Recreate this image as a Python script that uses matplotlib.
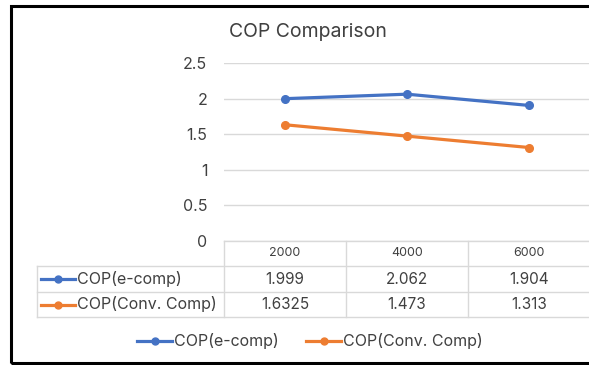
import matplotlib
matplotlib.use('Agg')
import matplotlib.pyplot as plt
from matplotlib.lines import Line2D
from matplotlib.patches import Rectangle
from matplotlib.transforms import blended_transform_factory

# 数据
categories = ['2000', '4000', '6000']
cop_ecomp = [1.999, 2.062, 1.904]
cop_conv = [1.6325, 1.473, 1.313]
ecomp_labels = ['1.999', '2.062', '1.904']
conv_labels = ['1.6325', '1.473', '1.313']
series_names = ['COP(e-comp)', 'COP(Conv. Comp)']
yticks = [0, 0.5, 1, 1.5, 2, 2.5]

blue = '#4472C4'
orange = '#ED7D31'
grid_c = '#D9D9D9'
text_c = '#404040'

plt.rcParams['font.family'] = ['Inter', 'DejaVu Sans']

W, H = 589, 365
fig = plt.figure(figsize=(W / 100, H / 100), dpi=100)


def fx(px):
    return px / W


def fy(py):
    return 1 - py / H


# 外框
fig.patches.append(Rectangle((fx(11), fy(362.5)), fx(600) - fx(11), fy(6) - fy(362.5),
                             transform=fig.transFigure, fill=False,
                             edgecolor='black', linewidth=2.2))

# 绘图区
ax = fig.add_axes([fx(224), fy(241), fx(590) - fx(224), fy(63) - fy(241)])
x = list(range(len(categories)))
ax.plot(x, cop_ecomp, color=blue, linewidth=2.3, marker='o', markersize=5.5)
ax.plot(x, cop_conv, color=orange, linewidth=2.3, marker='o', markersize=5.5)
ax.set_xlim(-0.5, len(categories) - 0.5)
ax.set_ylim(0, 2.5)
ax.set_yticks(yticks)
ax.set_yticklabels([f'{v:g}' for v in yticks], fontsize=11.5, color=text_c)
ax.tick_params(axis='y', length=0, pad=12)
ax.set_xticks([])
ax.grid(axis='y', color=grid_c, linewidth=1)
ax.set_axisbelow(True)
for s in ax.spines.values():
    s.set_visible(False)

fig.text(fx(308), fy(32), 'COP Comparison', ha='center', va='center',
         fontsize=14, color=text_c)

# 数据表
trans = blended_transform_factory(ax.transData, fig.transFigure)
row_y = [241, 266, 292, 317]
left = -0.5 - (224 - 37) / 122
right = len(categories) - 0.5 + 0.1
lkw = dict(color=grid_c, linewidth=1, transform=trans, clip_on=False)
fig.add_artist(Line2D([-0.5, right], [fy(row_y[0])] * 2, **lkw))
for py in row_y[1:]:
    fig.add_artist(Line2D([left, right], [fy(py)] * 2, **lkw))
fig.add_artist(Line2D([left, left], [fy(row_y[1]), fy(row_y[3])], **lkw))
for i in range(len(categories)):
    xb = i - 0.5
    fig.add_artist(Line2D([xb, xb], [fy(row_y[0]), fy(row_y[3])], **lkw))

for i, c in enumerate(categories):
    fig.text(i, fy((row_y[0] + row_y[1]) / 2), c, transform=trans,
             ha='center', va='center', fontsize=9, color=text_c)
for row, (labels, color, name) in enumerate(
        [(ecomp_labels, blue, series_names[0]), (conv_labels, orange, series_names[1])]):
    yc = fy((row_y[row + 1] + row_y[row + 2]) / 2)
    for i, t in enumerate(labels):
        fig.text(i, yc, t, transform=trans, ha='center', va='center',
                 fontsize=11, color=text_c)
    fig.add_artist(Line2D([fx(41), fx(58), fx(75)], [yc] * 3, color=color,
                          linewidth=2.3, marker='o', markersize=5, markevery=[1],
                          transform=fig.transFigure))
    fig.text(fx(77), yc, name, ha='left', va='center', fontsize=11.5, color=text_c)

# 图例
leg_y = fy(341)
for (x0, color, name) in [(137, blue, series_names[0]), (306, orange, series_names[1])]:
    fig.add_artist(Line2D([fx(x0), fx(x0 + 17.5), fx(x0 + 35)], [leg_y] * 3,
                          color=color, linewidth=2.3, marker='o', markersize=5,
                          markevery=[1], transform=fig.transFigure))
    fig.text(fx(x0 + 37), leg_y, name, ha='left', va='center', fontsize=11.5,
             color=text_c)

fig.savefig('out.png', dpi=100)
